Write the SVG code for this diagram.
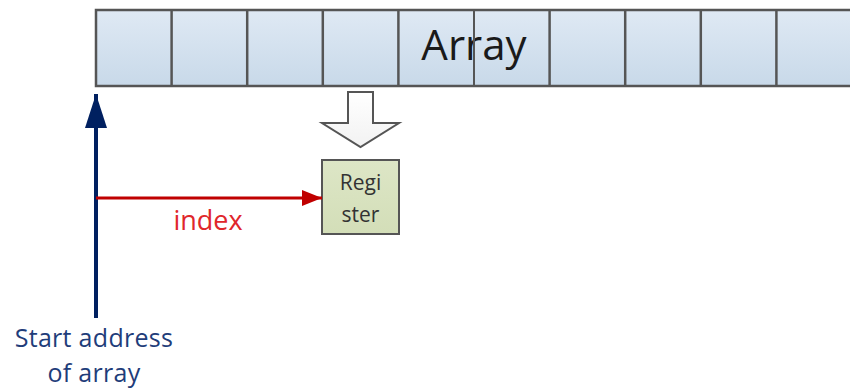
<svg xmlns="http://www.w3.org/2000/svg" width="850" height="391" viewBox="0 0 850 391">
  <defs>
    <linearGradient id="cellFill" x1="0" y1="0" x2="0" y2="1">
      <stop offset="0" stop-color="#dfe9f4"/>
      <stop offset="1" stop-color="#c8d9e9"/>
    </linearGradient>
    <linearGradient id="regFill" x1="0" y1="0" x2="0" y2="1">
      <stop offset="0" stop-color="#dde6c6"/>
      <stop offset="1" stop-color="#d3deb8"/>
    </linearGradient>
    <linearGradient id="hollowFill" x1="0" y1="0" x2="0" y2="1">
      <stop offset="0" stop-color="#ffffff"/>
      <stop offset="1" stop-color="#f2f2f2"/>
    </linearGradient>
    <marker id="redHead" markerUnits="userSpaceOnUse" markerWidth="22" markerHeight="16" refX="20" refY="8" orient="auto">
      <path d="M0,0 L20,8 L0,16 Z" fill="#c00000"/>
    </marker>
    <marker id="blueHead" markerUnits="userSpaceOnUse" markerWidth="36" markerHeight="24" refX="34" refY="11" orient="auto">
      <path d="M0,0 L34,11 L0,22 Z" fill="#002060"/>
    </marker>
  </defs>
  <style>
    .cell { fill: url(#cellFill); stroke: #555555; stroke-width: 2.5; }
    .divider { stroke: #555555; stroke-width: 2.5; }
    .label { font-family: "Open Sans", "DejaVu Sans", sans-serif; }
    .start { font-size: 25px; fill: #1f3d7a; letter-spacing: 0.3px; }
  </style>

  <!-- array strip of cells, running off the right edge -->
  <g id="array">
    <rect class="cell" x="96" y="10" width="770" height="76"/>
    <text class="label" x="474" y="60" font-size="42" fill="#1a1a1a" text-anchor="middle">Array</text>
    <g class="divider">
      <line x1="171.6" y1="10" x2="171.6" y2="86"/>
      <line x1="247.2" y1="10" x2="247.2" y2="86"/>
      <line x1="322.8" y1="10" x2="322.8" y2="86"/>
      <line x1="398.4" y1="10" x2="398.4" y2="86"/>
      <line x1="474" y1="10" x2="474" y2="86" stroke-width="2"/>
      <line x1="549.6" y1="10" x2="549.6" y2="86"/>
      <line x1="625.2" y1="10" x2="625.2" y2="86"/>
      <line x1="700.8" y1="10" x2="700.8" y2="86"/>
      <line x1="776.4" y1="10" x2="776.4" y2="86"/>
    </g>
  </g>

  <!-- hollow load arrow from array to register -->
  <g id="load-arrow">
    <path d="M348,92 L373,92 L373,123 L399,123 L360.5,147 L322,123 L348,123 Z" fill="url(#hollowFill)" stroke="#555555" stroke-width="2" stroke-linejoin="miter"/>
  </g>

  <!-- register box -->
  <g id="register">
    <rect x="322" y="160" width="77" height="74" fill="url(#regFill)" stroke="#555555" stroke-width="2"/>
    <text class="label" x="360.5" y="190" font-size="21" fill="#333333" text-anchor="middle">Regi</text>
    <text class="label" x="360.5" y="222" font-size="21" fill="#333333" text-anchor="middle">ster</text>
  </g>

  <!-- connectors -->
  <g id="connectors">
    <line x1="96" y1="318" x2="96" y2="94" stroke="#002060" stroke-width="4" marker-end="url(#blueHead)"/>
    <line x1="96" y1="198" x2="322" y2="198" stroke="#c00000" stroke-width="3" marker-end="url(#redHead)"/>
  </g>

  <!-- labels -->
  <g id="index-label">
    <text class="label" x="208" y="230" font-size="27" fill="#e0262b" text-anchor="middle">index</text>
  </g>
  <g id="start-label">
    <text class="label start" x="94" y="347" text-anchor="middle">Start address</text>
    <text class="label start" x="94" y="382" text-anchor="middle">of array</text>
  </g>
</svg>
